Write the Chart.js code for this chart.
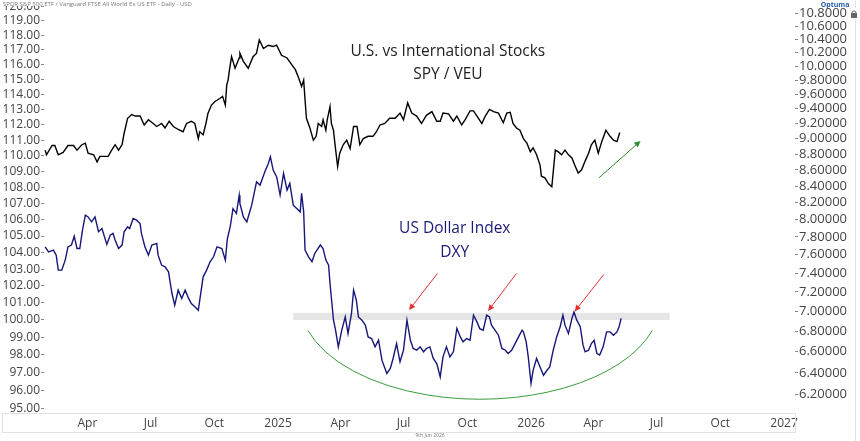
<!DOCTYPE html>
<html>
<head>
<meta charset="utf-8">
<script src="https://cdn.jsdelivr.net/npm/chart.js@4.4.1/dist/chart.umd.min.js"></script>
<style>
  html, body { margin: 0; padding: 0; background: #fff; }
  #wrap { width: 860px; height: 441px; }
</style>
</head>
<body>
<div id="wrap"><canvas id="chart" width="860" height="441"></canvas></div>
<script>
// day numbers are counted from 1 Jan 2024
const spyVeuDays = [30,32,40,44,49,56,63,71,76,83,88,92,100,105,109,116,121,126,131,136,141,144,149,155,160,167,173,179,186,191,198,203,209,215,222,229,234,241,246,251,253,258,262,265,270,275,282,286,290,292,294,296,299,304,310,311,316,323,330,335,339,345,352,359,364,371,379,386,391,395,400,403,405,407,412,417,421,424,429,431,435,437,441,443,446,448,452,455,460,465,470,475,480,484,489,496,503,508,513,520,527,535,542,547,553,559,566,573,580,588,595,600,604,612,619,624,631,636,643,648,653,660,665,671,677,684,691,696,701,705,710,715,720,725,730,734,739,744,746,751,756,761,766,770,775,780,785,790,794,799,804,809,814,818,823,828,833,839,845,850,855,859];
const spyVeuValues = [8.85,8.79,8.91,8.91,8.79,8.82,8.91,8.91,8.85,8.92,8.94,8.81,8.79,8.70,8.77,8.77,8.77,8.85,8.92,8.85,8.92,9.07,9.27,9.32,9.30,9.30,9.18,9.25,9.20,9.16,9.20,9.14,9.23,9.16,9.12,9.09,9.20,9.23,9.20,9.00,9.09,9.05,9.20,9.34,9.45,9.50,9.54,9.57,9.45,9.73,9.80,9.95,10.14,9.97,10.12,10.19,10.07,9.97,10.14,10.19,10.39,10.26,10.31,10.29,10.31,10.16,10.12,10.02,9.95,9.85,9.71,9.80,9.52,9.27,9.14,8.98,9.03,9.20,9.16,9.25,9.11,9.25,9.43,9.20,9.11,8.94,8.64,8.81,8.92,8.98,8.87,9.16,9.16,8.92,9.00,9.03,9.03,9.09,9.18,9.20,9.27,9.27,9.34,9.25,9.48,9.34,9.30,9.20,9.31,9.36,9.23,9.23,9.34,9.33,9.23,9.30,9.18,9.25,9.37,9.37,9.30,9.20,9.30,9.39,9.36,9.34,9.21,9.34,9.35,9.20,9.14,9.11,9.00,8.94,8.83,8.88,8.79,8.66,8.52,8.50,8.43,8.39,8.85,8.83,8.79,8.85,8.79,8.75,8.66,8.56,8.60,8.71,8.81,8.92,8.98,8.81,8.96,9.11,9.03,8.98,8.96,9.08];

const dxyDays = [30,35,42,46,49,54,59,63,68,72,76,80,84,88,92,97,102,107,112,119,124,128,131,136,141,144,149,152,157,162,167,169,174,179,184,191,193,198,203,208,213,217,222,227,232,237,241,246,251,258,263,268,273,278,285,290,293,297,301,306,310,311,316,321,328,335,340,347,352,355,359,364,369,374,379,383,388,393,398,400,403,405,410,415,419,427,431,435,439,441,446,449,453,458,463,467,472,475,479,482,487,492,496,501,506,511,516,523,528,532,537,542,547,552,557,561,566,571,576,580,585,590,595,600,604,609,614,619,624,629,633,638,643,648,653,657,662,667,671,674,679,684,689,694,698,703,708,713,718,720,724,727,731,734,739,744,749,754,758,763,768,773,777,780,785,790,793,797,802,806,809,814,818,822,826,830,835,840,845,850,855,858,861];
const dxyValues = [104.34,104.04,104.14,103.84,102.94,102.94,103.54,104.34,104.45,104.99,104.24,104.24,105.37,106.28,106.17,105.87,106.17,105.26,105.46,104.49,105.05,105.16,104.76,104.24,104.45,105.26,105.56,105.46,106.07,105.97,105.76,105.16,104.34,103.84,104.45,104.55,103.84,103.24,103.14,102.84,101.55,100.87,101.75,101.26,101.75,101.26,100.96,100.77,100.57,102.54,102.94,103.44,103.74,104.34,104.24,103.54,104.85,105.56,106.68,106.38,107.52,107.01,106.17,105.87,106.90,108.36,108.15,109.00,109.52,109.94,109.10,108.68,107.53,108.89,107.84,108.26,106.90,106.69,106.48,107.63,106.48,104.14,103.74,103.44,103.94,104.45,104.24,103.54,103.24,102.14,100.00,99.41,98.45,99.41,100.18,99.22,100.38,101.75,101.16,100.18,99.99,99.70,99.02,98.93,98.45,98.83,97.68,96.94,97.22,97.79,98.64,97.60,98.26,99.99,98.83,98.36,98.26,98.45,98.17,98.36,98.45,97.79,97.50,96.75,97.88,98.45,97.88,98.17,99.51,99.02,98.74,98.93,98.83,100.28,99.89,99.50,99.41,100.28,100.18,99.70,99.41,99.12,98.36,98.26,98.07,98.26,98.64,99.02,99.41,99.31,98.74,97.88,96.38,97.12,97.79,97.31,96.84,97.12,97.31,98.26,99.02,99.61,100.28,99.70,99.22,100.09,100.47,99.99,99.61,98.55,98.17,98.26,98.64,98.83,98.07,97.98,98.45,99.31,99.31,99.12,99.31,99.61,100.09];

const xTickDates = ["2024-04-01","2024-07-01","2024-10-01","2025-01-01","2025-04-01","2025-07-01","2025-10-01","2026-01-01","2026-04-01","2026-07-01","2026-10-01","2027-01-01"];
const xTickLabels = ["Apr","Jul","Oct","2025","Apr","Jul","Oct","2026","Apr","Jul","Oct","2027"];
const dxyTicks = [95,96,97,98,99,100,101,102,103,104,105,106,107,108,109,110,111,112,113,114,115,116,117,118,119,120];
const ratioTicks = [6.2,6.4,6.6,6.8,7.0,7.2,7.4,7.6,7.8,8.0,8.2,8.4,8.6,8.8,9.0,9.2,9.4,9.6,9.8,10.0,10.2,10.4,10.6,10.8];

const dayOf = s => (Date.UTC(+s.slice(0, 4), +s.slice(5, 7) - 1, +s.slice(8, 10)) - Date.UTC(2024, 0, 1)) / 86400000;
const xTickDays = xTickDates.map(dayOf);

// annotations, in chart units (day, value)
const band = { from: 388, to: 931, low: 100.0, high: 100.42 };
const bowl = { from: 409, to: 906, top: 99.4, bottom: 95.5 };
const redArrows = [[596, 102.74, 555, 100.58], [710, 102.74, 669, 100.52], [836, 102.68, 794, 100.5]];
const greenArrow = [829, 8.5, 889, 8.97];

function arrow(ctx, x1, y1, x2, y2, color, head) {
  const a = Math.atan2(y2 - y1, x2 - x1);
  ctx.strokeStyle = color;
  ctx.fillStyle = color;
  ctx.lineWidth = 1;
  ctx.beginPath();
  ctx.moveTo(x1, y1);
  ctx.lineTo(x2 - Math.cos(a) * head * 0.7, y2 - Math.sin(a) * head * 0.7);
  ctx.stroke();
  ctx.beginPath();
  ctx.moveTo(x2, y2);
  ctx.lineTo(x2 - head * Math.cos(a - 0.45), y2 - head * Math.sin(a - 0.45));
  ctx.lineTo(x2 - head * Math.cos(a + 0.45), y2 - head * Math.sin(a + 0.45));
  ctx.closePath();
  ctx.fill();
}

const extras = {
  id: "extras",
  beforeDatasetsDraw(chart) {
    const { ctx, chartArea } = chart;
    const x = chart.scales.x, yl = chart.scales.yDxy;
    ctx.save();
    // frame lines round the date axis and the right price column
    ctx.strokeStyle = "#e2e2e2";
    ctx.lineWidth = 1;
    ctx.strokeRect(2.5, chartArea.bottom + 0.5, chartArea.right - 2, 19);
    ctx.beginPath();
    ctx.moveTo(855.5, 0);
    ctx.lineTo(855.5, 441);
    ctx.stroke();

    ctx.fillStyle = "#e6e6e6";
    const t = yl.getPixelForValue(band.high), b = yl.getPixelForValue(band.low);
    ctx.fillRect(x.getPixelForValue(band.from), t, x.getPixelForValue(band.to) - x.getPixelForValue(band.from), b - t);
    ctx.restore();
  },
  afterDatasetsDraw(chart) {
    const { ctx } = chart;
    const x = chart.scales.x, yl = chart.scales.yDxy, yr = chart.scales.yRatio;
    ctx.save();
    // green bowl under the dollar index
    const xs = x.getPixelForValue(bowl.from), xe = x.getPixelForValue(bowl.to);
    const ye = yl.getPixelForValue(bowl.top), yb = yl.getPixelForValue(bowl.bottom);
    const k = 0.9556, s = Math.sqrt(1 - k * k);
    const rx = (xe - xs) / 2 / k, ry = (yb - ye) / (1 - s);
    ctx.strokeStyle = "#3c9a3c";
    ctx.lineWidth = 1;
    ctx.beginPath();
    ctx.ellipse((xs + xe) / 2, yb - ry, rx, ry, 0, Math.acos(k), Math.PI - Math.acos(k));
    ctx.stroke();

    redArrows.forEach(r => arrow(ctx, x.getPixelForValue(r[0]), yl.getPixelForValue(r[1]),
      x.getPixelForValue(r[2]), yl.getPixelForValue(r[3]), "#e33232", 7));
    arrow(ctx, x.getPixelForValue(greenArrow[0]), yr.getPixelForValue(greenArrow[1]),
      x.getPixelForValue(greenArrow[2]), yr.getPixelForValue(greenArrow[3]), "#2f8f2f", 7);

    ctx.textAlign = "center";
    ctx.textBaseline = "middle";
    ctx.font = "15.5px 'Open Sans'";
    ctx.fillStyle = "#1e1e1e";
    const tx = x.getPixelForValue(611), ty = yr.getPixelForValue(10.24) + 2;
    ctx.fillText("U.S. vs International Stocks", tx, ty);
    ctx.fillText("SPY / VEU", tx, ty + 23);
    ctx.fillStyle = "#1b1b78";
    const dx = x.getPixelForValue(621), dy = yl.getPixelForValue(105.6) + 2;
    ctx.fillText("US Dollar Index", dx, dy);
    ctx.fillText("DXY", dx, dy + 24);

    // header, footer, logo and lock
    ctx.fillStyle = "#fff";
    ctx.fillRect(0, 0, 190, 6);
    ctx.fillRect(849, 8, 10, 11);
    ctx.textAlign = "left";
    ctx.font = "6px 'Open Sans'";
    ctx.fillStyle = "#777";
    ctx.fillText("SPDR S&P 500 ETF / Vanguard FTSE All World Ex US ETF - Daily - USD", 3, 4);
    ctx.fillStyle = "#666";
    ctx.fillRect(851, 13, 6, 5);
    ctx.strokeStyle = "#666";
    ctx.beginPath();
    ctx.arc(854, 13, 2, Math.PI, 0);
    ctx.stroke();
    ctx.textAlign = "center";
    ctx.font = "5px 'Open Sans'";
    ctx.fillStyle = "#777";
    ctx.fillText("9th Jun 2026", 430, 436);
    ctx.font = "bold 7px 'Open Sans'";
    ctx.fillStyle = "#2a5caa";
    ctx.fillText("Optuma", 835, 5);
    ctx.restore();
  }
};

const noPad = s => { s.paddingTop = 0; s.paddingBottom = 0; };

new Chart(document.getElementById("chart"), {
  type: "line",
  data: {
    datasets: [
      {
        label: "SPY / VEU",
        data: spyVeuDays.map((d, i) => ({ x: d, y: spyVeuValues[i] })),
        yAxisID: "yRatio",
        borderColor: "#000000",
        borderWidth: 1.4,
        pointRadius: 0,
        tension: 0
      },
      {
        label: "DXY",
        data: dxyDays.map((d, i) => ({ x: d, y: dxyValues[i] })),
        yAxisID: "yDxy",
        borderColor: "#17177a",
        borderWidth: 1.4,
        pointRadius: 0,
        tension: 0
      }
    ]
  },
  options: {
    responsive: false,
    animation: false,
    devicePixelRatio: 1,
    layout: { padding: 0 },
    plugins: { legend: { display: false }, tooltip: { enabled: false } },
    scales: {
      x: {
        type: "linear",
        min: 28.4,
        max: 1111.8,
        afterBuildTicks: s => { s.ticks = xTickDays.map(v => ({ value: v })); },
        afterFit: s => { s.height = 28; s.paddingLeft = 0; s.paddingRight = 0; },
        grid: { display: false, drawTicks: false },
        border: { display: true, color: "#dddddd" },
        ticks: {
          autoSkip: false,
          maxRotation: 0,
          padding: 3,
          color: "#444",
          font: { family: "Open Sans", size: 12 },
          callback: (v, i) => xTickLabels[i]
        }
      },
      yDxy: {
        type: "logarithmic",
        position: "left",
        min: 94.74,
        max: 120.43,
        afterBuildTicks: s => { s.ticks = dxyTicks.map(v => ({ value: v })); },
        afterFit: s => { s.width = 44; noPad(s); },
        grid: { display: true, drawOnChartArea: false, drawTicks: true, tickLength: 3, color: "#888" },
        border: { display: false },
        ticks: {
          autoSkip: false,
          padding: 1,
          color: "#444",
          font: { family: "Open Sans", size: 12 },
          callback: v => v.toFixed(2)
        }
      },
      yRatio: {
        type: "logarithmic",
        position: "right",
        min: 6.037,
        max: 11.011,
        afterBuildTicks: s => { s.ticks = ratioTicks.map(v => ({ value: v })); },
        afterFit: s => { s.width = 65; noPad(s); },
        grid: { display: true, drawOnChartArea: false, drawTicks: true, tickLength: 3, color: "#888" },
        border: { display: false },
        ticks: {
          autoSkip: false,
          padding: 1,
          color: "#444",
          font: { family: "Open Sans", size: 13 },
          callback: v => v.toPrecision(6)
        }
      }
    }
  },
  plugins: [extras]
});
</script>
</body>
</html>
